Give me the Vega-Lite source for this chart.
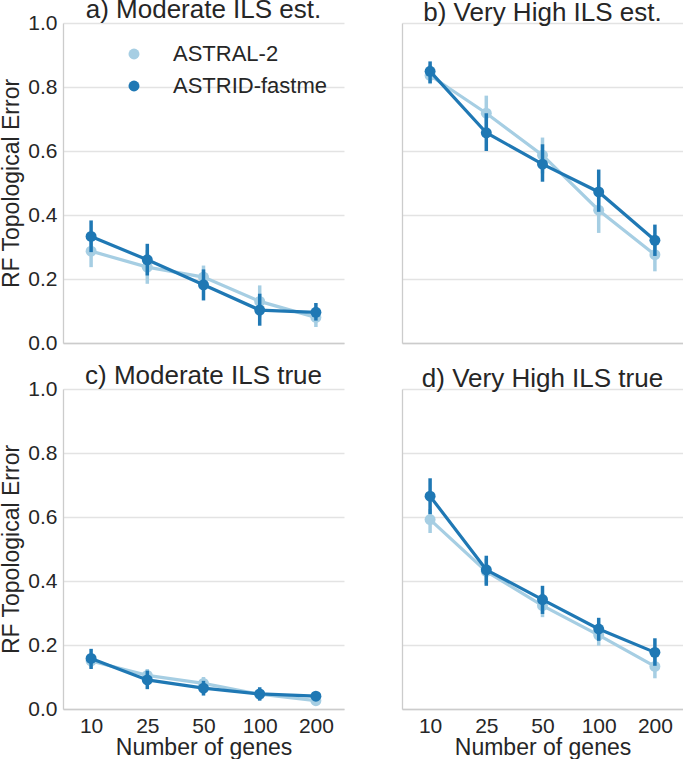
{
  "$schema": "https://vega.github.io/schema/vega-lite/v6.json",
  "padding": {"left": 0, "top": -3, "right": 0, "bottom": 0},
  "background": "white",
  "spacing": 10,
  "config": {
    "font": "Liberation Sans",
    "view": {"stroke": null},
    "axis": {"labelFontSize": 21, "titleFontSize": 23, "labelColor": "#262626", "titleColor": "#262626", "titleFontWeight": "normal", "gridColor": "#e3e3e3", "gridWidth": 1.3, "domainColor": "#cccccc", "domainWidth": 1.3, "ticks": false, "labelPadding": 6, "titlePadding": 4},
    "axisX": {"titlePadding": 0},
    "title": {"fontSize": 26, "fontWeight": "normal", "color": "#262626", "offset": -3},
    "concat": {"spacing": 58}
  },
  "datasets": {
    "pts": [
      {"panel": "a", "method": "ASTRAL-2", "genes": "10", "mean": 0.287, "lo": 0.237, "hi": 0.34},
      {"panel": "a", "method": "ASTRAL-2", "genes": "25", "mean": 0.237, "lo": 0.185, "hi": 0.29},
      {"panel": "a", "method": "ASTRAL-2", "genes": "50", "mean": 0.206, "lo": 0.17, "hi": 0.242},
      {"panel": "a", "method": "ASTRAL-2", "genes": "100", "mean": 0.13, "lo": 0.08, "hi": 0.18},
      {"panel": "a", "method": "ASTRAL-2", "genes": "200", "mean": 0.08, "lo": 0.05, "hi": 0.11},
      {"panel": "a", "method": "ASTRID-fastme", "genes": "10", "mean": 0.333, "lo": 0.284, "hi": 0.383},
      {"panel": "a", "method": "ASTRID-fastme", "genes": "25", "mean": 0.26, "lo": 0.211, "hi": 0.31},
      {"panel": "a", "method": "ASTRID-fastme", "genes": "50", "mean": 0.182, "lo": 0.133, "hi": 0.23},
      {"panel": "a", "method": "ASTRID-fastme", "genes": "100", "mean": 0.103, "lo": 0.054, "hi": 0.154},
      {"panel": "a", "method": "ASTRID-fastme", "genes": "200", "mean": 0.096, "lo": 0.07, "hi": 0.125},
      {"panel": "b", "method": "ASTRAL-2", "genes": "10", "mean": 0.836, "lo": 0.809, "hi": 0.87},
      {"panel": "b", "method": "ASTRAL-2", "genes": "25", "mean": 0.718, "lo": 0.66, "hi": 0.773},
      {"panel": "b", "method": "ASTRAL-2", "genes": "50", "mean": 0.587, "lo": 0.53, "hi": 0.642},
      {"panel": "b", "method": "ASTRAL-2", "genes": "100", "mean": 0.415, "lo": 0.344, "hi": 0.47},
      {"panel": "b", "method": "ASTRAL-2", "genes": "200", "mean": 0.276, "lo": 0.224, "hi": 0.32},
      {"panel": "b", "method": "ASTRID-fastme", "genes": "10", "mean": 0.849, "lo": 0.812, "hi": 0.88},
      {"panel": "b", "method": "ASTRID-fastme", "genes": "25", "mean": 0.657, "lo": 0.6, "hi": 0.718},
      {"panel": "b", "method": "ASTRID-fastme", "genes": "50", "mean": 0.559, "lo": 0.504, "hi": 0.621},
      {"panel": "b", "method": "ASTRID-fastme", "genes": "100", "mean": 0.472, "lo": 0.41, "hi": 0.542},
      {"panel": "b", "method": "ASTRID-fastme", "genes": "200", "mean": 0.321, "lo": 0.272, "hi": 0.37},
      {"panel": "c", "method": "ASTRAL-2", "genes": "10", "mean": 0.15, "lo": 0.13, "hi": 0.17},
      {"panel": "c", "method": "ASTRAL-2", "genes": "25", "mean": 0.105, "lo": 0.085, "hi": 0.125},
      {"panel": "c", "method": "ASTRAL-2", "genes": "50", "mean": 0.08, "lo": 0.06, "hi": 0.1},
      {"panel": "c", "method": "ASTRAL-2", "genes": "100", "mean": 0.046, "lo": 0.03, "hi": 0.062},
      {"panel": "c", "method": "ASTRAL-2", "genes": "200", "mean": 0.026, "lo": 0.015, "hi": 0.038},
      {"panel": "c", "method": "ASTRID-fastme", "genes": "10", "mean": 0.158, "lo": 0.125, "hi": 0.188},
      {"panel": "c", "method": "ASTRID-fastme", "genes": "25", "mean": 0.091, "lo": 0.062, "hi": 0.12},
      {"panel": "c", "method": "ASTRID-fastme", "genes": "50", "mean": 0.065, "lo": 0.042, "hi": 0.088},
      {"panel": "c", "method": "ASTRID-fastme", "genes": "100", "mean": 0.047, "lo": 0.026, "hi": 0.068},
      {"panel": "c", "method": "ASTRID-fastme", "genes": "200", "mean": 0.04, "lo": 0.03, "hi": 0.05},
      {"panel": "d", "method": "ASTRAL-2", "genes": "10", "mean": 0.592, "lo": 0.55, "hi": 0.625},
      {"panel": "d", "method": "ASTRAL-2", "genes": "25", "mean": 0.43, "lo": 0.39, "hi": 0.47},
      {"panel": "d", "method": "ASTRAL-2", "genes": "50", "mean": 0.323, "lo": 0.287, "hi": 0.36},
      {"panel": "d", "method": "ASTRAL-2", "genes": "100", "mean": 0.231, "lo": 0.198, "hi": 0.265},
      {"panel": "d", "method": "ASTRAL-2", "genes": "200", "mean": 0.133, "lo": 0.096, "hi": 0.17},
      {"panel": "d", "method": "ASTRID-fastme", "genes": "10", "mean": 0.665, "lo": 0.609, "hi": 0.721},
      {"panel": "d", "method": "ASTRID-fastme", "genes": "25", "mean": 0.435, "lo": 0.385, "hi": 0.479},
      {"panel": "d", "method": "ASTRID-fastme", "genes": "50", "mean": 0.342, "lo": 0.297, "hi": 0.385},
      {"panel": "d", "method": "ASTRID-fastme", "genes": "100", "mean": 0.25, "lo": 0.213, "hi": 0.285},
      {"panel": "d", "method": "ASTRID-fastme", "genes": "200", "mean": 0.177, "lo": 0.135, "hi": 0.221}
    ]
  },
  "data": {"name": "pts"},
  "vconcat": [
    {
      "hconcat": [
        {
          "title": {"text": "a) Moderate ILS est.", "dy": 8},
          "width": 281, "height": 320,
          "transform": [{"filter": "datum.panel == 'a'"}],
          "encoding": {
            "x": {"field": "genes", "type": "ordinal", "sort": ["10", "25", "50", "100", "200"], "scale": {"type": "point", "padding": 0.5}, "axis": {"title": null, "labels": false, "grid": false}},
            "color": {"field": "method", "type": "nominal", "scale": {"domain": ["ASTRAL-2", "ASTRID-fastme"], "range": ["#a6cee3", "#1f78b4"]}, "legend": {"title": null, "orient": "none", "legendX": 60, "legendY": 20, "labelFontSize": 22, "labelColor": "#262626", "symbolType": "circle", "symbolSize": 120, "symbolStrokeWidth": 0, "labelOffset": 28, "rowPadding": 10, "encode": {"symbols": {"update": {"fill": {"scale": "color", "field": "value"}, "opacity": {"value": 1}}}}}}
          },
          "layer": [
            {"transform": [{"filter": "datum.method == 'ASTRAL-2'"}], "layer": [
              {"mark": {"type": "rule", "strokeWidth": 3.5}, "encoding": {"y": {"field": "lo", "type": "quantitative", "scale": {"domain": [0, 1]}, "axis": {"title": "RF Topological Error", "values": [0, 0.2, 0.4, 0.6, 0.8, 1.0], "format": ".1f"}}, "y2": {"field": "hi"}}},
              {"mark": {"type": "line", "strokeWidth": 3.2}, "encoding": {"y": {"field": "mean", "type": "quantitative", "scale": {"domain": [0, 1]}, "axis": {"title": "RF Topological Error", "values": [0, 0.2, 0.4, 0.6, 0.8, 1.0], "format": ".1f"}}}},
              {"mark": {"type": "circle", "size": 120, "opacity": 1}, "encoding": {"y": {"field": "mean", "type": "quantitative", "scale": {"domain": [0, 1]}, "axis": {"title": "RF Topological Error", "values": [0, 0.2, 0.4, 0.6, 0.8, 1.0], "format": ".1f"}}}}
            ]},
            {"transform": [{"filter": "datum.method == 'ASTRID-fastme'"}], "layer": [
              {"mark": {"type": "rule", "strokeWidth": 3.5}, "encoding": {"y": {"field": "lo", "type": "quantitative", "scale": {"domain": [0, 1]}, "axis": {"title": "RF Topological Error", "values": [0, 0.2, 0.4, 0.6, 0.8, 1.0], "format": ".1f"}}, "y2": {"field": "hi"}}},
              {"mark": {"type": "line", "strokeWidth": 3.2}, "encoding": {"y": {"field": "mean", "type": "quantitative", "scale": {"domain": [0, 1]}, "axis": {"title": "RF Topological Error", "values": [0, 0.2, 0.4, 0.6, 0.8, 1.0], "format": ".1f"}}}},
              {"mark": {"type": "circle", "size": 120, "opacity": 1}, "encoding": {"y": {"field": "mean", "type": "quantitative", "scale": {"domain": [0, 1]}, "axis": {"title": "RF Topological Error", "values": [0, 0.2, 0.4, 0.6, 0.8, 1.0], "format": ".1f"}}}}
            ]}
          ]
        },
        {
          "title": "b) Very High ILS est.",
          "width": 281, "height": 320,
          "transform": [{"filter": "datum.panel == 'b'"}],
          "encoding": {
            "x": {"field": "genes", "type": "ordinal", "sort": ["10", "25", "50", "100", "200"], "scale": {"type": "point", "padding": 0.5}, "axis": {"title": null, "labels": false, "grid": false}},
            "color": {"field": "method", "type": "nominal", "scale": {"domain": ["ASTRAL-2", "ASTRID-fastme"], "range": ["#a6cee3", "#1f78b4"]}, "legend": {"title": null, "orient": "none", "legendX": 60, "legendY": 20, "labelFontSize": 22, "labelColor": "#262626", "symbolType": "circle", "symbolSize": 120, "symbolStrokeWidth": 0, "labelOffset": 28, "rowPadding": 10, "encode": {"symbols": {"update": {"fill": {"scale": "color", "field": "value"}, "opacity": {"value": 1}}}}}}
          },
          "layer": [
            {"transform": [{"filter": "datum.method == 'ASTRAL-2'"}], "layer": [
              {"mark": {"type": "rule", "strokeWidth": 3.5}, "encoding": {"y": {"field": "lo", "type": "quantitative", "scale": {"domain": [0, 1]}, "axis": {"title": null, "labels": false, "values": [0, 0.2, 0.4, 0.6, 0.8, 1.0]}}, "y2": {"field": "hi"}}},
              {"mark": {"type": "line", "strokeWidth": 3.2}, "encoding": {"y": {"field": "mean", "type": "quantitative", "scale": {"domain": [0, 1]}, "axis": {"title": null, "labels": false, "values": [0, 0.2, 0.4, 0.6, 0.8, 1.0]}}}},
              {"mark": {"type": "circle", "size": 120, "opacity": 1}, "encoding": {"y": {"field": "mean", "type": "quantitative", "scale": {"domain": [0, 1]}, "axis": {"title": null, "labels": false, "values": [0, 0.2, 0.4, 0.6, 0.8, 1.0]}}}}
            ]},
            {"transform": [{"filter": "datum.method == 'ASTRID-fastme'"}], "layer": [
              {"mark": {"type": "rule", "strokeWidth": 3.5}, "encoding": {"y": {"field": "lo", "type": "quantitative", "scale": {"domain": [0, 1]}, "axis": {"title": null, "labels": false, "values": [0, 0.2, 0.4, 0.6, 0.8, 1.0]}}, "y2": {"field": "hi"}}},
              {"mark": {"type": "line", "strokeWidth": 3.2}, "encoding": {"y": {"field": "mean", "type": "quantitative", "scale": {"domain": [0, 1]}, "axis": {"title": null, "labels": false, "values": [0, 0.2, 0.4, 0.6, 0.8, 1.0]}}}},
              {"mark": {"type": "circle", "size": 120, "opacity": 1}, "encoding": {"y": {"field": "mean", "type": "quantitative", "scale": {"domain": [0, 1]}, "axis": {"title": null, "labels": false, "values": [0, 0.2, 0.4, 0.6, 0.8, 1.0]}}}}
            ]}
          ]
        }
      ]
    },
    {
      "hconcat": [
        {
          "title": {"text": "c) Moderate ILS true", "dy": 8},
          "width": 281, "height": 320,
          "transform": [{"filter": "datum.panel == 'c'"}],
          "encoding": {
            "x": {"field": "genes", "type": "ordinal", "sort": ["10", "25", "50", "100", "200"], "scale": {"type": "point", "padding": 0.5}, "axis": {"title": "Number of genes", "labelAngle": 0, "grid": false}},
            "color": {"field": "method", "type": "nominal", "scale": {"domain": ["ASTRAL-2", "ASTRID-fastme"], "range": ["#a6cee3", "#1f78b4"]}, "legend": {"title": null, "orient": "none", "legendX": 60, "legendY": 20, "labelFontSize": 22, "labelColor": "#262626", "symbolType": "circle", "symbolSize": 120, "symbolStrokeWidth": 0, "labelOffset": 28, "rowPadding": 10, "encode": {"symbols": {"update": {"fill": {"scale": "color", "field": "value"}, "opacity": {"value": 1}}}}}}
          },
          "layer": [
            {"transform": [{"filter": "datum.method == 'ASTRAL-2'"}], "layer": [
              {"mark": {"type": "rule", "strokeWidth": 3.5}, "encoding": {"y": {"field": "lo", "type": "quantitative", "scale": {"domain": [0, 1]}, "axis": {"title": "RF Topological Error", "values": [0, 0.2, 0.4, 0.6, 0.8, 1.0], "format": ".1f"}}, "y2": {"field": "hi"}}},
              {"mark": {"type": "line", "strokeWidth": 3.2}, "encoding": {"y": {"field": "mean", "type": "quantitative", "scale": {"domain": [0, 1]}, "axis": {"title": "RF Topological Error", "values": [0, 0.2, 0.4, 0.6, 0.8, 1.0], "format": ".1f"}}}},
              {"mark": {"type": "circle", "size": 120, "opacity": 1}, "encoding": {"y": {"field": "mean", "type": "quantitative", "scale": {"domain": [0, 1]}, "axis": {"title": "RF Topological Error", "values": [0, 0.2, 0.4, 0.6, 0.8, 1.0], "format": ".1f"}}}}
            ]},
            {"transform": [{"filter": "datum.method == 'ASTRID-fastme'"}], "layer": [
              {"mark": {"type": "rule", "strokeWidth": 3.5}, "encoding": {"y": {"field": "lo", "type": "quantitative", "scale": {"domain": [0, 1]}, "axis": {"title": "RF Topological Error", "values": [0, 0.2, 0.4, 0.6, 0.8, 1.0], "format": ".1f"}}, "y2": {"field": "hi"}}},
              {"mark": {"type": "line", "strokeWidth": 3.2}, "encoding": {"y": {"field": "mean", "type": "quantitative", "scale": {"domain": [0, 1]}, "axis": {"title": "RF Topological Error", "values": [0, 0.2, 0.4, 0.6, 0.8, 1.0], "format": ".1f"}}}},
              {"mark": {"type": "circle", "size": 120, "opacity": 1}, "encoding": {"y": {"field": "mean", "type": "quantitative", "scale": {"domain": [0, 1]}, "axis": {"title": "RF Topological Error", "values": [0, 0.2, 0.4, 0.6, 0.8, 1.0], "format": ".1f"}}}}
            ]}
          ]
        },
        {
          "title": "d) Very High ILS true",
          "width": 281, "height": 320,
          "transform": [{"filter": "datum.panel == 'd'"}],
          "encoding": {
            "x": {"field": "genes", "type": "ordinal", "sort": ["10", "25", "50", "100", "200"], "scale": {"type": "point", "padding": 0.5}, "axis": {"title": "Number of genes", "labelAngle": 0, "grid": false}},
            "color": {"field": "method", "type": "nominal", "scale": {"domain": ["ASTRAL-2", "ASTRID-fastme"], "range": ["#a6cee3", "#1f78b4"]}, "legend": {"title": null, "orient": "none", "legendX": 60, "legendY": 20, "labelFontSize": 22, "labelColor": "#262626", "symbolType": "circle", "symbolSize": 120, "symbolStrokeWidth": 0, "labelOffset": 28, "rowPadding": 10, "encode": {"symbols": {"update": {"fill": {"scale": "color", "field": "value"}, "opacity": {"value": 1}}}}}}
          },
          "layer": [
            {"transform": [{"filter": "datum.method == 'ASTRAL-2'"}], "layer": [
              {"mark": {"type": "rule", "strokeWidth": 3.5}, "encoding": {"y": {"field": "lo", "type": "quantitative", "scale": {"domain": [0, 1]}, "axis": {"title": null, "labels": false, "values": [0, 0.2, 0.4, 0.6, 0.8, 1.0]}}, "y2": {"field": "hi"}}},
              {"mark": {"type": "line", "strokeWidth": 3.2}, "encoding": {"y": {"field": "mean", "type": "quantitative", "scale": {"domain": [0, 1]}, "axis": {"title": null, "labels": false, "values": [0, 0.2, 0.4, 0.6, 0.8, 1.0]}}}},
              {"mark": {"type": "circle", "size": 120, "opacity": 1}, "encoding": {"y": {"field": "mean", "type": "quantitative", "scale": {"domain": [0, 1]}, "axis": {"title": null, "labels": false, "values": [0, 0.2, 0.4, 0.6, 0.8, 1.0]}}}}
            ]},
            {"transform": [{"filter": "datum.method == 'ASTRID-fastme'"}], "layer": [
              {"mark": {"type": "rule", "strokeWidth": 3.5}, "encoding": {"y": {"field": "lo", "type": "quantitative", "scale": {"domain": [0, 1]}, "axis": {"title": null, "labels": false, "values": [0, 0.2, 0.4, 0.6, 0.8, 1.0]}}, "y2": {"field": "hi"}}},
              {"mark": {"type": "line", "strokeWidth": 3.2}, "encoding": {"y": {"field": "mean", "type": "quantitative", "scale": {"domain": [0, 1]}, "axis": {"title": null, "labels": false, "values": [0, 0.2, 0.4, 0.6, 0.8, 1.0]}}}},
              {"mark": {"type": "circle", "size": 120, "opacity": 1}, "encoding": {"y": {"field": "mean", "type": "quantitative", "scale": {"domain": [0, 1]}, "axis": {"title": null, "labels": false, "values": [0, 0.2, 0.4, 0.6, 0.8, 1.0]}}}}
            ]}
          ]
        }
      ]
    }
  ]
}
